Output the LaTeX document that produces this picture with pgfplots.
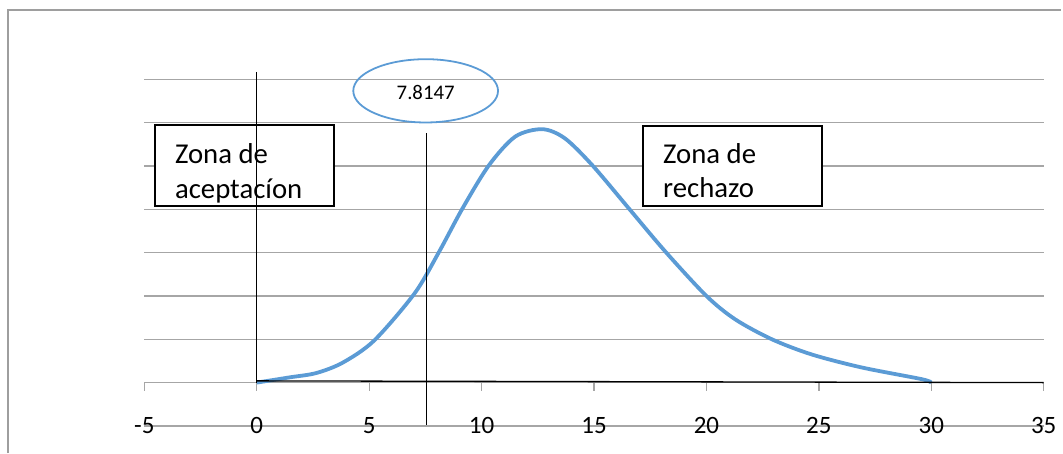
\documentclass[border=0pt]{standalone}
\usepackage{pgfplots}
\pgfplotsset{compat=1.18}
\usepackage{fontspec}
\setmainfont{Carlito}
\definecolor{curva}{HTML}{5B9BD5}
\definecolor{rejilla}{HTML}{A6A6A6}
\definecolor{marco}{HTML}{9E9E9E}
\begin{document}
\begin{tikzpicture}
\begin{axis}[
    scale only axis,
    width=450.5pt, height=173.6pt,
    xmin=-5, xmax=35, ymin=-1, ymax=7,
    clip=false,
    axis x line=middle, axis y line=left,
    hide obscured x ticks=false,
    x axis line style={-, draw=rejilla, line width=0.65pt},
    y axis line style={draw=none},
    xtick={-5,0,...,35},
    ytick={-1,0,...,7},
    yticklabels={},
    ytick style={draw=none},
    ymajorgrids,
    major grid style={draw=rejilla, line width=0.65pt},
    tick align=outside,
    major tick length=4pt,
    xtick style={draw=rejilla, line width=0.65pt},
    xticklabel style={font=\fontsize{12.5}{14}\selectfont, anchor=base, yshift=-21.7pt},
    /pgf/number format/assume math mode=true,
]
% marco exterior y caja de la pagina
\path (axis cs:-11.42,-1.629) rectangle (axis cs:35.77,8.832);
\draw[marco, line width=0.7pt] (axis cs:-11.068,-1.629) -- (axis cs:-11.068,8.601) -- (axis cs:35.77,8.601);

% curva
\addplot[curva, line width=1.9pt, smooth, tension=0.5] coordinates {
    (0,0) (1.45,0.12) (2.64,0.22) (3.82,0.46) (5.22,0.97) (7.02,2.06)
    (8.11,3.02) (9.15,4.02) (10.33,5.02) (11.5,5.68) (12.70,5.85)
    (13.7,5.64) (14.92,5.02) (16.55,4.02) (18.18,3.02) (20.0,2.0)
    (21.28,1.46) (22.91,1.0) (24.68,0.65) (26.9,0.35) (29.57,0.08) (30,0)
};

% lineas negras
\addplot[black, line width=0.65pt] coordinates {(0,7.17) (0,0)};
\addplot[black, line width=0.65pt] coordinates {(7.56,5.76) (7.56,-0.98)};
\addplot[black, line width=0.65pt] coordinates {(0,0.04) (35,0)};

% valor critico
\draw[curva, line width=0.9pt] (axis cs:7.512,6.735) ellipse [x radius=36.25pt, y radius=15.85pt];
\node[font=\fontsize{10.4}{12}\selectfont, inner sep=0pt] at (axis cs:7.512,6.69) {7.8147};

% zonas
\draw[black, line width=1pt, fill=white] (axis cs:-4.542,4.085) rectangle (axis cs:3.450,5.952);
\draw[black, line width=1pt, fill=white] (axis cs:17.168,4.085) rectangle (axis cs:25.159,5.929);
\addplot[black, line width=0.65pt] coordinates {(0,5.952) (0,4.085)};
\node[font=\fontsize{14.4}{17}\selectfont, anchor=base west, inner sep=0pt] at (axis cs:-3.654,5.069) {Zona de};
\node[font=\fontsize{14.4}{17}\selectfont, anchor=base west, inner sep=0pt] at (axis cs:-3.654,4.247) {aceptacíon};
\node[font=\fontsize{14.4}{17}\selectfont, anchor=base west, inner sep=0pt] at (axis cs:18.056,5.069) {Zona de};
\node[font=\fontsize{14.4}{17}\selectfont, anchor=base west, inner sep=0pt] at (axis cs:18.056,4.263) {rechazo};
\end{axis}
\end{tikzpicture}
\end{document}
